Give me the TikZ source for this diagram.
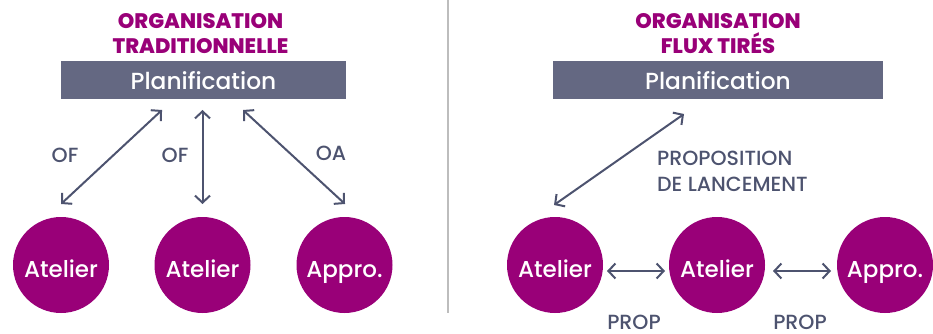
\documentclass[tikz,border=0pt]{standalone}
\usepackage{fontspec}
\setmainfont{Poppins}[UprightFont=* Medium,BoldFont=* ExtraBold]
\usetikzlibrary{arrows.meta}
\definecolor{purp}{HTML}{990078}
\definecolor{boxc}{HTML}{646882}
\definecolor{linec}{HTML}{4D536F}
\definecolor{divc}{HTML}{BDBDBD}
\begin{document}
\begin{tikzpicture}[x=1pt,y=-1pt,
 circ/.style={circle,fill=purp,minimum size=96pt,inner sep=0pt,text=white,text height=24pt,text depth=0pt,font=\fontsize{23}{24}\selectfont},
 plan/.style={fill=boxc,text=white,font=\fontsize{23.3}{26}\selectfont,minimum height=38pt,inner sep=0pt,text height=18.4pt,text depth=0pt},
 ttl/.style={text=purp,font=\fontsize{21}{25}\selectfont\bfseries,align=center},
 lbl/.style={text=linec,font=\fontsize{20.5}{26}\selectfont,inner sep=0pt,anchor=base},
 arr/.style={draw=linec,line width=2pt,{Straight Barb[length=7pt,width=15pt]}-{Straight Barb[length=7pt,width=15pt]}}]
\useasboundingbox (0,0) rectangle (933,334);
% divider
\draw[divc,line width=2.5pt] (448,0) coordinate (d1) -- (448,313) coordinate (d2);
% ---------- left panel ----------
\node[ttl] (t1) at (200.5,33.5) {ORGANISATION\\TRADITIONNELLE};
\node[plan,minimum width=285pt] (p1) at (203.5,80) {Planification};
\node[circ] (a1) at (61,265) {Atelier};
\node[circ] (a2) at (202.5,265) {Atelier};
\node[circ] (a3) at (344.5,265) {Appro.};
\coordinate (e1s) at (162,110); \coordinate (e1e) at (61,204);
\coordinate (e2s) at (202.5,110); \coordinate (e2e) at (202.5,204);
\coordinate (e3s) at (243,110); \coordinate (e3e) at (345,204);
\draw[arr] (e1s) -- (e1e);
\draw[arr] (e2s) -- (e2e);
\draw[arr] (e3s) -- (e3e);
\node[lbl] (l1) at (65,162) {OF};
\node[lbl] (l2) at (175,162) {OF};
\node[lbl] (l3) at (331,160) {OA};
% ---------- right panel ----------
\node[ttl] (t2) at (718,33.5) {ORGANISATION\\FLUX TIRÉS};
\node[plan,minimum width=330pt] (p2) at (718,80) {Planification};
\node[circ] (b1) at (555,265) {Atelier};
\node[circ] (b2) at (717,265) {Atelier};
\node[circ] (b3) at (885,265) {Appro.};
\coordinate (f1s) at (684,114); \coordinate (f1e) at (554,205);
\draw[arr] (f1s) -- (f1e);
\node[lbl,anchor=base west] (lp1) at (657,165) {PROPOSITION};
\node[lbl,anchor=base west] (lp2) at (657,191) {DE LANCEMENT};
\coordinate (g1s) at (607,271); \coordinate (g1e) at (665,271);
\coordinate (g2s) at (773,271); \coordinate (g2e) at (831,271);
\draw[arr] (g1s) -- (g1e);
\draw[arr] (g2s) -- (g2e);
\node[lbl] (q1) at (634,329) {PROP};
\node[lbl] (q2) at (800,329) {PROP};
\end{tikzpicture}
\end{document}
